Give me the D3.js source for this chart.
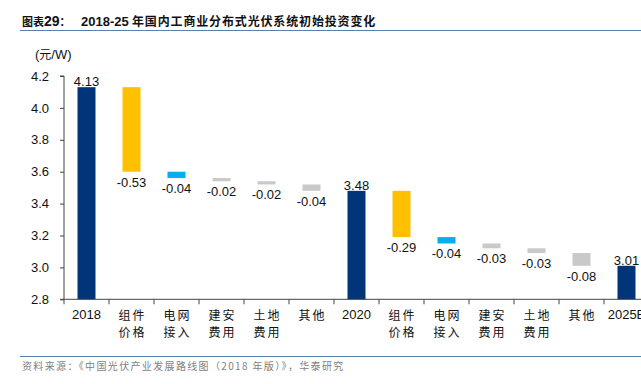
<!DOCTYPE html>
<html>
<head>
<meta charset="utf-8">
<script src="https://cdn.jsdelivr.net/npm/d3@7"></script>
<style>
  body { margin: 0; background: #fff; }
  svg { display: block; font-family: "Liberation Sans", Arial, sans-serif; }
  .cjk { font-family: "Noto Sans CJK SC", sans-serif; }
</style>
</head>
<body>
<svg width="641" height="384"></svg>
<script>
// categories (two-line labels split by "|")
var categories = ["2018", "组件|价格", "电网|接入", "建安|费用", "土地|费用", "其他",
                  "2020", "组件|价格", "电网|接入", "建安|费用", "土地|费用", "其他", "2025E"];
// "total" = absolute bar, "delta" = change
var kinds  = ["total", "delta", "delta", "delta", "delta", "delta",
              "total", "delta", "delta", "delta", "delta", "delta", "total"];
var values = [4.13, -0.53, -0.04, -0.02, -0.02, -0.04,
              3.48, -0.29, -0.04, -0.03, -0.03, -0.08, 3.01];
var groups = ["year", "module", "grid", "other", "other", "other",
              "year", "module", "grid", "other", "other", "other", "year"];
var yTicks = [2.8, 3.0, 3.2, 3.4, 3.6, 3.8, 4.0, 4.2];

var color = { year: "#003679", module: "#FFC000", grid: "#00B0F0", other: "#C9C9C9" };

var svg = d3.select("svg");
var pLeft = 64, pRight = 649, pTop = 76, pBottom = 299.3;
var fmt = d3.formatLocale({ decimal: ".", thousands: ",", grouping: [3], currency: ["", ""], minus: "-" }).format(".2f");

// build waterfall rows
var level = 0;
var rows = categories.map(function(c, i) {
  var r = { i: i, cat: c, kind: kinds[i], v: values[i], g: groups[i] };
  if (r.kind === "total") { r.y0 = 2.8; r.y1 = r.v; level = r.v; }
  else { r.y1 = level; r.y0 = +(level + r.v).toFixed(2); level = r.y0; }
  return r;
});

var x = d3.scaleBand().domain(d3.range(categories.length)).range([pLeft, pRight]).paddingInner(0.6).paddingOuter(0.3);
var y = d3.scaleLinear().domain([2.8, 4.2]).range([pBottom, pTop]);

// title
var title = svg.append("text").attr("x", 22).attr("y", 26).attr("font-weight", "bold").attr("fill", "#111");
title.append("tspan").attr("class", "cjk").attr("font-size", 11).attr("letter-spacing", 0).text("图表");
title.append("tspan").attr("font-size", 14).text("29");
title.append("tspan").attr("class", "cjk").attr("font-size", 11).text("：");
svg.append("text").attr("x", 81).attr("y", 26)
  .attr("font-size", 13).attr("font-weight", "bold").attr("fill", "#111")
  .text("2018-25");
svg.append("text").attr("class", "cjk").attr("x", 132).attr("y", 26)
  .attr("font-size", 12).attr("font-weight", "bold").attr("fill", "#111")
  .attr("letter-spacing", 0.85)
  .text("年国内工商业分布式光伏系统初始投资变化");
svg.append("line").attr("x1", 20).attr("x2", 641).attr("y1", 30.5).attr("y2", 30.5)
  .attr("stroke", "#5b7fae").attr("stroke-width", 1);

// unit
svg.append("text").attr("x", 35).attr("y", 59).attr("font-size", 13).attr("fill", "#111")
  .html('(<tspan class="cjk" font-size="12">元</tspan>/W)');

// y axis
var yAxis = svg.append("g").attr("transform", "translate(" + pLeft + ",0)")
  .call(d3.axisLeft(y).tickValues(yTicks).tickFormat(d3.format(".1f")).tickSize(4).tickPadding(11));
yAxis.select(".domain").attr("stroke", "#444").attr("d", "M-4," + pTop + "H0V" + pBottom + "H-4");
yAxis.selectAll(".tick line").attr("stroke", "#444");
yAxis.selectAll(".tick text").attr("font-size", 13).attr("fill", "#111")
  .attr("font-family", "Liberation Sans, Arial, sans-serif");

// bars
svg.append("g").selectAll("rect").data(rows).enter().append("rect")
  .attr("x", function(d) { return x(d.i); })
  .attr("width", x.bandwidth())
  .attr("y", function(d) { return y(d.y1); })
  .attr("height", function(d) { return y(d.y0) - y(d.y1); })
  .attr("fill", function(d) { return color[d.g]; });

// x axis
var step = x.step();
var xa = svg.append("g").attr("transform", "translate(0," + pBottom + ")");
xa.append("line").attr("x1", pLeft).attr("x2", pRight).attr("stroke", "#444");
xa.selectAll(".tk").data(d3.range(categories.length + 1)).enter().append("line")
  .attr("x1", function(d) { return pLeft + d * step; })
  .attr("x2", function(d) { return pLeft + d * step; })
  .attr("y1", 0).attr("y2", 5).attr("stroke", "#444");

xa.selectAll(".lab").data(rows).enter().append("text")
  .attr("class", function(d) { return d.kind === "total" ? "" : "cjk"; })
  .attr("x", function(d) { return x(d.i) + x.bandwidth() / 2; })
  .attr("text-anchor", "middle")
  .attr("fill", "#111")
  .each(function(d) {
    var t = d3.select(this);
    if (d.kind === "total") {
      t.attr("y", 20).attr("font-size", 13).text(d.cat);
    } else {
      d.cat.split("|").forEach(function(s, k) {
        t.append("tspan").attr("x", x(d.i) + x.bandwidth() / 2 + 1).attr("y", 21 + k * 17)
          .attr("font-size", 12).attr("letter-spacing", 2).text(s);
      });
    }
  });

// value labels
svg.append("g").selectAll("text").data(rows).enter().append("text")
  .attr("x", function(d) { return x(d.i) + x.bandwidth() / 2; })
  .attr("y", function(d) { return d.kind === "total" ? y(d.y1) - 1 : y(d.y0) + 15; })
  .attr("text-anchor", "middle").attr("font-size", 13).attr("fill", "#111")
  .text(function(d) { return fmt(d.v); });

// footer
svg.append("line").attr("x1", 20).attr("x2", 641).attr("y1", 356.5).attr("y2", 356.5)
  .attr("stroke", "#5b7fae").attr("stroke-width", 1);
svg.append("text").attr("class", "cjk").attr("x", 22).attr("y", 369.5)
  .attr("font-size", 10).attr("fill", "#7f7f7f").attr("letter-spacing", 1.35)
  .text("资料来源：《中国光伏产业发展路线图（2018 年版）》，华泰研究");
</script>
</body>
</html>
